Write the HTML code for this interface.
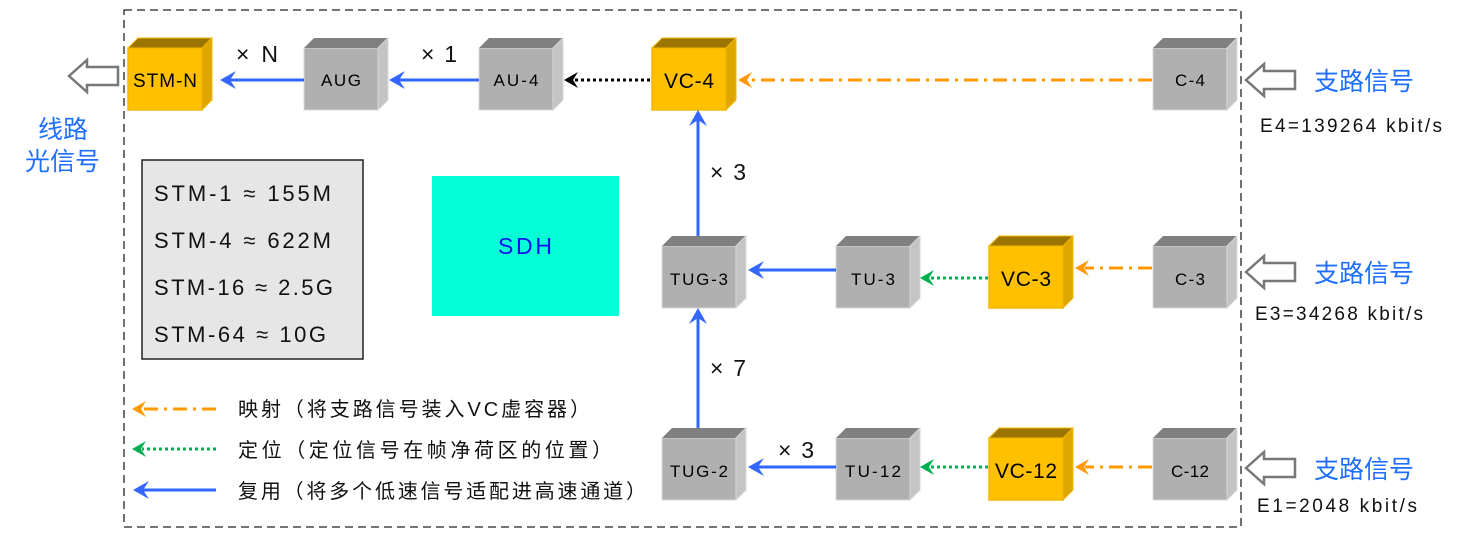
<!DOCTYPE html>
<html><head><meta charset="utf-8"><style>
html,body{margin:0;padding:0;background:#fff;}
svg{display:block;}
text{font-family:"Liberation Sans","Noto Sans CJK SC",sans-serif;}
</style></head><body>
<svg width="1460" height="539" viewBox="0 0 1460 539" xmlns="http://www.w3.org/2000/svg">
<defs>
<g id="cg">
<rect x="0" y="10" width="74" height="62" fill="#b0b0b0" stroke="#d8d8d8" stroke-width="1"/>
<polygon points="0,10 10,0 84,0 74,10" fill="#808080"/>
<polygon points="74,10 84,0 84,62 74,72" fill="#c4c4c4" stroke="#d8d8d8" stroke-width="1"/>
</g>
<g id="cy">
<rect x="0" y="10" width="74" height="62" fill="#ffc000" stroke="#f2b800" stroke-width="1.5"/>
<polygon points="0,10 10,0 84,0 74,10" fill="#9c7400" stroke="#f2b800" stroke-width="1"/>
<polygon points="74,10 84,0 84,62 74,72" fill="#e0a600" stroke="#f2b800" stroke-width="1"/>
</g>
</defs>

<rect x="124" y="10" width="1117" height="517" fill="none" stroke="#222" stroke-width="1.3" stroke-dasharray="8,5"/>

<use href="#cy" x="128" y="38"/><text x="165" y="87" font-size="19" text-anchor="middle" textLength="64">STM-N</text>
<use href="#cg" x="304" y="38"/><text x="341" y="86" font-size="17" text-anchor="middle" textLength="40">AUG</text>
<use href="#cg" x="479" y="38"/><text x="516" y="86" font-size="17" text-anchor="middle" textLength="45">AU-4</text>
<use href="#cy" x="652" y="38"/><text x="689" y="88" font-size="21" text-anchor="middle" textLength="50">VC-4</text>
<use href="#cg" x="1153" y="38"/><text x="1190" y="86" font-size="17" text-anchor="middle" textLength="30">C-4</text>

<use href="#cg" x="662" y="236"/><text x="699" y="285" font-size="17" text-anchor="middle" textLength="58">TUG-3</text>
<use href="#cg" x="836" y="236"/><text x="873" y="285" font-size="17" text-anchor="middle" textLength="44">TU-3</text>
<use href="#cy" x="989" y="236"/><text x="1026" y="286" font-size="21" text-anchor="middle" textLength="50">VC-3</text>
<use href="#cg" x="1153" y="236"/><text x="1190" y="285" font-size="17" text-anchor="middle" textLength="30">C-3</text>

<use href="#cg" x="662" y="428"/><text x="699" y="477" font-size="17" text-anchor="middle" textLength="58">TUG-2</text>
<use href="#cg" x="836" y="428"/><text x="873" y="477" font-size="17" text-anchor="middle" textLength="56">TU-12</text>
<use href="#cy" x="989" y="428"/><text x="1026" y="478" font-size="21" text-anchor="middle" textLength="62">VC-12</text>
<use href="#cg" x="1153" y="428"/><text x="1190" y="477" font-size="17" text-anchor="middle" textLength="38">C-12</text>

<g stroke="#3366ff" stroke-width="3" fill="none">
<line x1="304" y1="80" x2="224" y2="80"/>
<line x1="479" y1="80" x2="393" y2="80"/>
<line x1="836" y1="270" x2="752" y2="270"/>
<line x1="836" y1="467" x2="752" y2="467"/>
<line x1="698" y1="236" x2="698" y2="116"/>
<line x1="698" y1="428" x2="698" y2="314"/>
<line x1="216" y1="490" x2="138" y2="490"/>
</g>
<g fill="#3366ff">
<polygon points="220,80 236,71 230,80 236,89"/>
<polygon points="389,80 405,71 399,80 405,89"/>
<polygon points="748,270 764,261 758,270 764,279"/>
<polygon points="748,467 764,458 758,467 764,476"/>
<polygon points="698,110 689,126 698,120 707,126"/>
<polygon points="698,308 689,324 698,318 707,324"/>
<polygon points="133,490 149,481 143,490 149,499"/>
</g>

<line x1="650" y1="80" x2="572" y2="80" stroke="#000" stroke-width="3" stroke-dasharray="3,3"/>
<polygon points="564,80 578,72 573,80 578,88" fill="#000"/>

<g stroke="#ff9900" stroke-width="3" fill="none" stroke-dasharray="14,6,3,6">
<line x1="1152" y1="80" x2="752" y2="80"/>
<line x1="1152" y1="268" x2="1085" y2="268"/>
<line x1="1152" y1="467" x2="1085" y2="467"/>
<line x1="216" y1="409" x2="142" y2="409"/>
</g>
<g fill="#ff9900">
<polygon points="738,80 752,72 747,80 752,88"/>
<polygon points="1075,268 1089,260 1084,268 1089,276"/>
<polygon points="1075,467 1089,459 1084,467 1089,475"/>
<polygon points="132,409 146,401 141,409 146,417"/>
</g>

<g stroke="#00b050" stroke-width="3" fill="none" stroke-dasharray="3,3">
<line x1="988" y1="278" x2="930" y2="278"/>
<line x1="988" y1="467" x2="930" y2="467"/>
<line x1="216" y1="449" x2="142" y2="449"/>
</g>
<g fill="#00b050">
<polygon points="920,278 934,270 929,278 934,286"/>
<polygon points="920,467 934,459 929,467 934,475"/>
<polygon points="132,449 146,441 141,449 146,457"/>
</g>

<g font-size="23" fill="#111">
<text x="236" y="62" textLength="42">× N</text>
<text x="421" y="62" textLength="36">× 1</text>
<text x="710" y="180" textLength="36">× 3</text>
<text x="710" y="376" textLength="36">× 7</text>
<text x="778" y="458" textLength="36">× 3</text>
</g>

<g fill="#fff" stroke="#777" stroke-width="2.5">
<polygon points="69,76 87,60 87,67 118,67 118,85 87,85 87,92"/>
<polygon points="1246,80 1264,64 1264,71 1295,71 1295,89 1264,89 1264,96"/>
<polygon points="1246,272 1264,256 1264,263 1295,263 1295,281 1264,281 1264,288"/>
<polygon points="1246,468 1264,452 1264,459 1295,459 1295,477 1264,477 1264,484"/>
</g>

<g fill="#1e6fff" font-size="25">
<text x="38" y="138">线路</text>
<text x="25" y="170">光信号</text>
<text x="1314" y="90">支路信号</text>
<text x="1314" y="282">支路信号</text>
<text x="1314" y="478">支路信号</text>
</g>
<g font-size="19" fill="#111">
<text x="1260" y="132" textLength="182">E4=139264  kbit/s</text>
<text x="1255" y="320" textLength="168">E3=34268  kbit/s</text>
<text x="1257" y="512" textLength="160">E1=2048  kbit/s</text>
</g>

<rect x="142" y="160" width="221" height="199" fill="#e6e6e6" stroke="#222" stroke-width="1.5"/>
<g font-size="22" fill="#111">
<text x="154" y="201" textLength="177">STM-1 ≈ 155M</text>
<text x="154" y="248" textLength="177">STM-4 ≈ 622M</text>
<text x="154" y="295" textLength="179">STM-16 ≈ 2.5G</text>
<text x="154" y="342" textLength="172">STM-64 ≈ 10G</text>
</g>

<rect x="432" y="176" width="187" height="140" fill="#05ffd6"/>
<text x="525" y="254" font-size="23" fill="#1010ee" text-anchor="middle" textLength="54">SDH</text>

<g font-size="20" fill="#111">
<text x="238" y="416" textLength="352">映射（将支路信号装入VC虚容器）</text>
<text x="238" y="457" textLength="374">定位（定位信号在帧净荷区的位置）</text>
<text x="238" y="498" textLength="408">复用（将多个低速信号适配进高速通道）</text>
</g>
</svg>
</body></html>
